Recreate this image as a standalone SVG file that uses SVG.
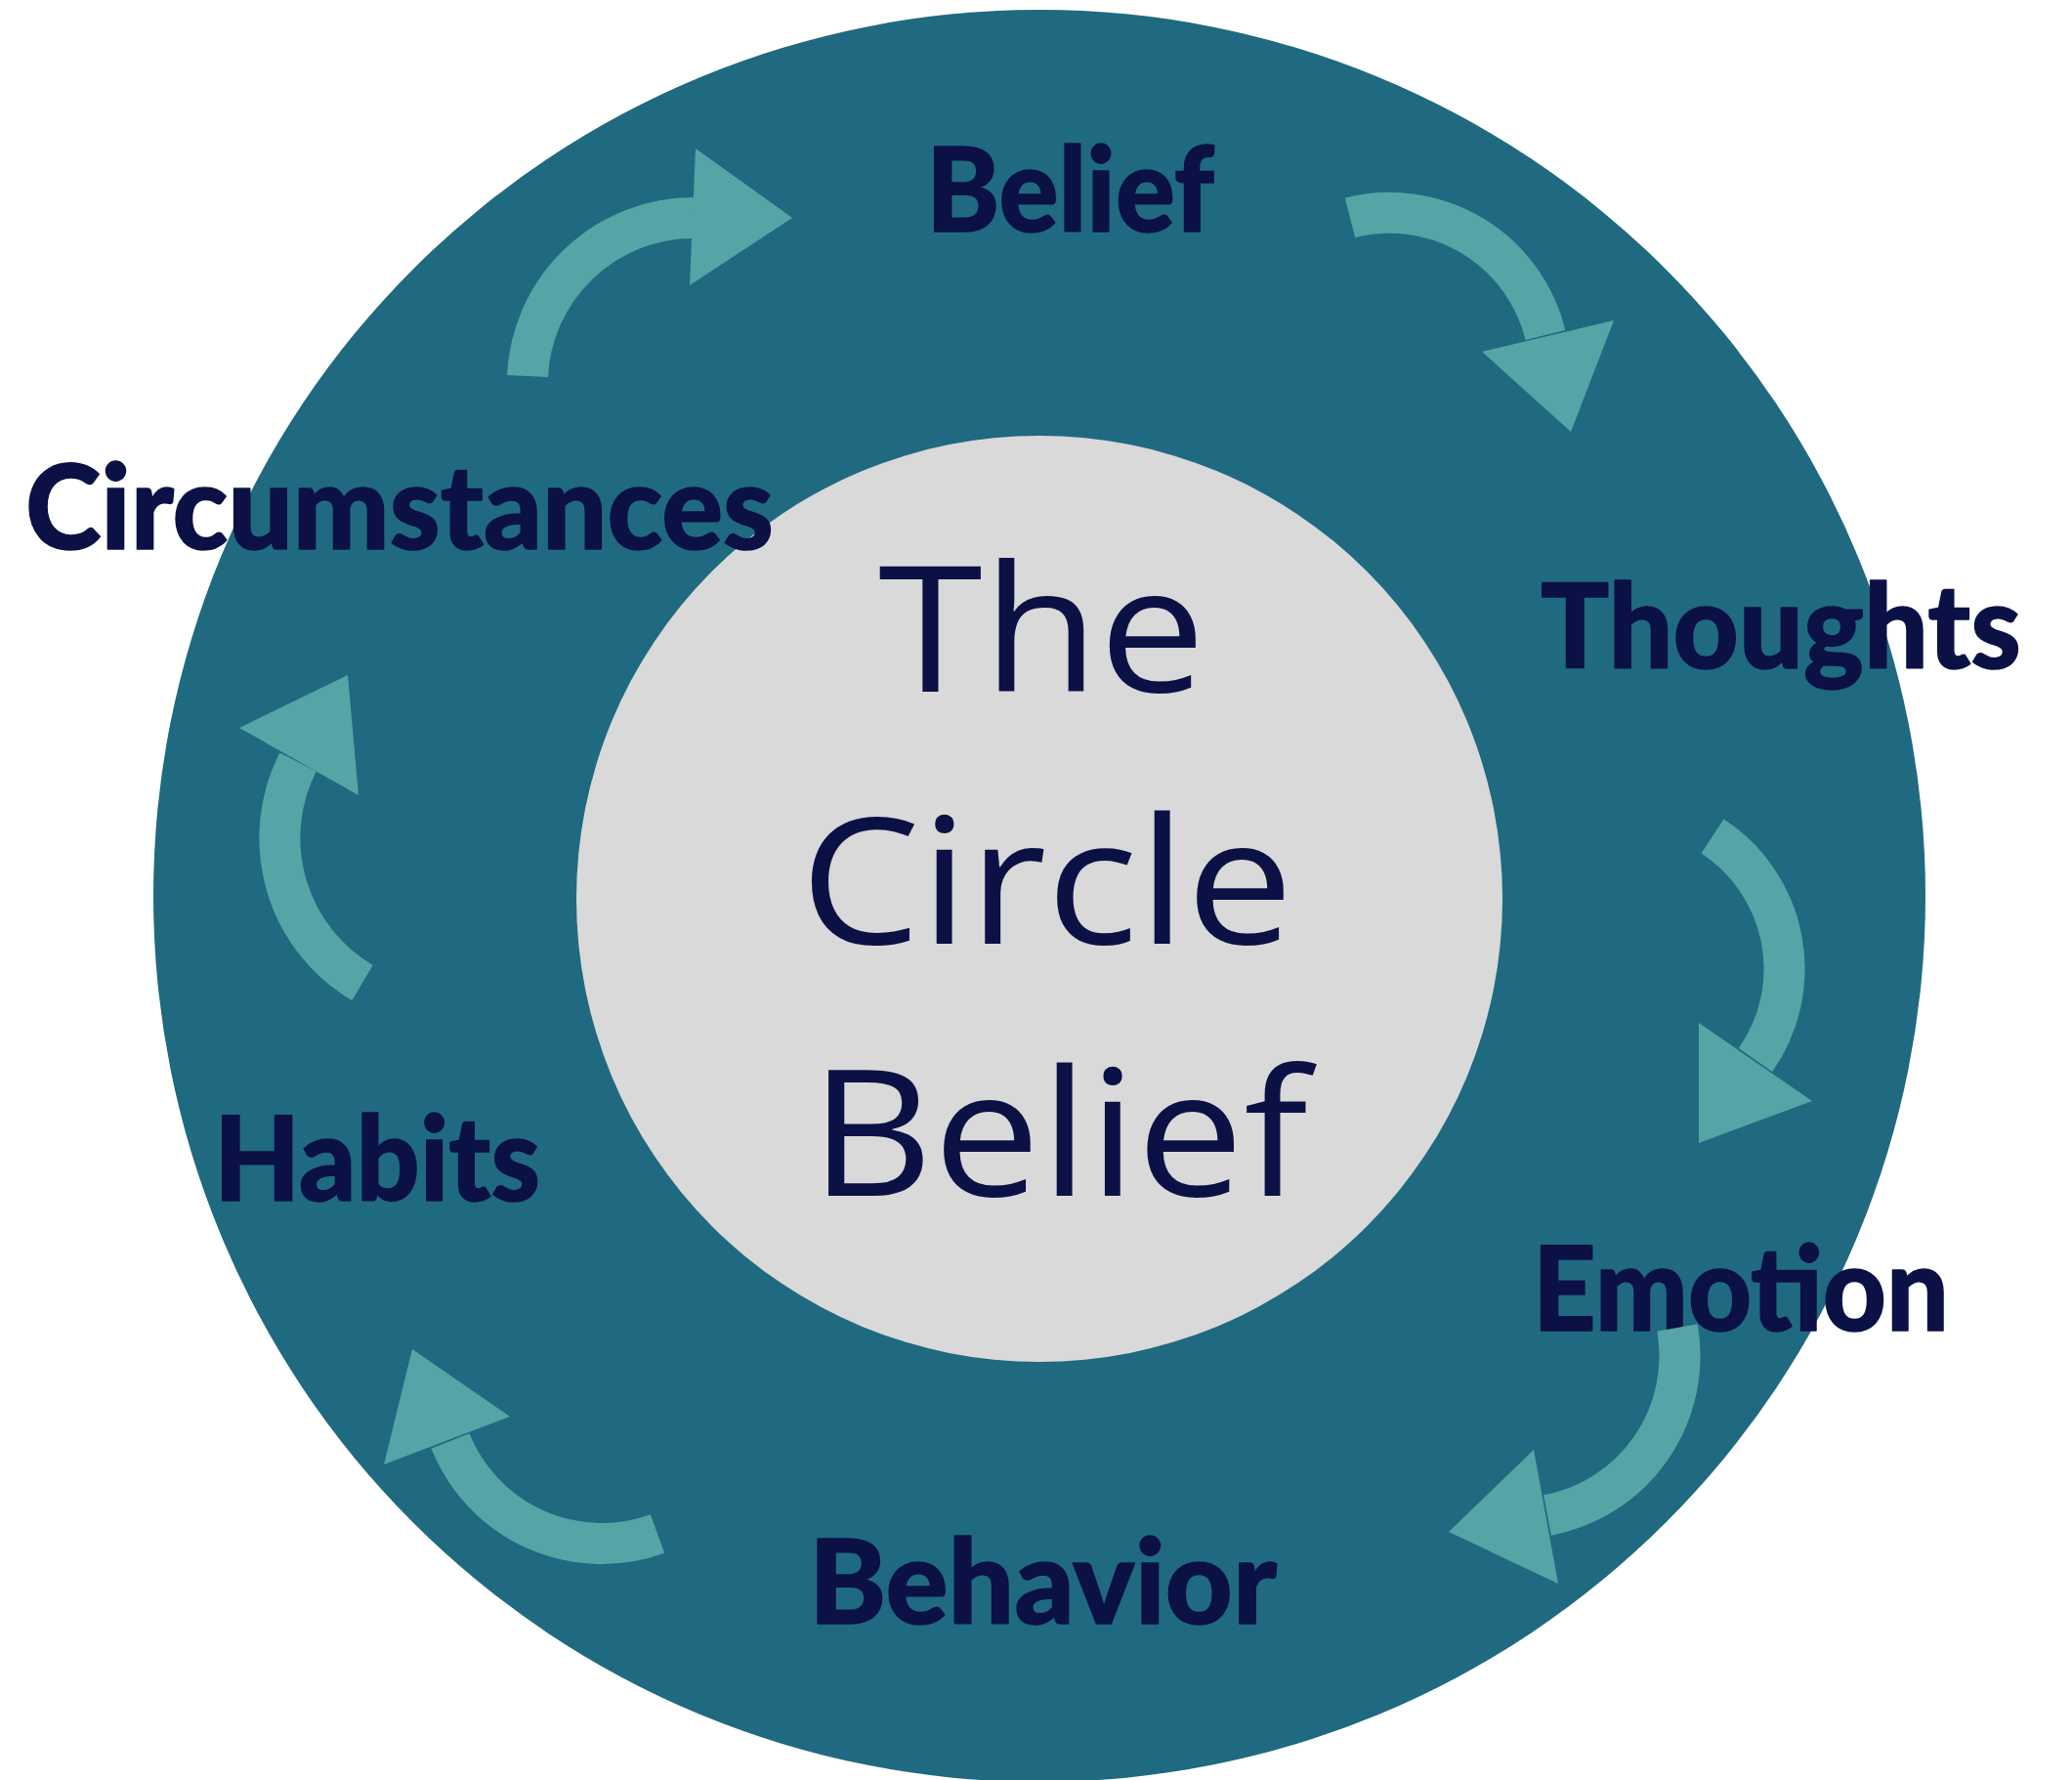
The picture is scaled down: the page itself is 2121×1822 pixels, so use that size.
<svg xmlns="http://www.w3.org/2000/svg" width="2121" height="1822" viewBox="0 0 2121 1822">
<style>
.lbl{font-family:"Lato","Noto Sans","Liberation Sans",sans-serif;font-weight:900;font-size:120px;fill:#0b1145;stroke:#0b1145;stroke-width:1.5;stroke-linejoin:round}
.ctr{font-family:"Open Sans","Liberation Sans",sans-serif;font-weight:400;font-size:180px;fill:#0b1145}
.shaft{fill:none;stroke:#56a5a6;stroke-width:42;stroke-linecap:butt}
.head{fill:#56a5a6}
</style>
<rect width="2121" height="1822" fill="#ffffff"/>
<g id="outer-ring"><circle cx="1064" cy="917" r="907" fill="#1f6a80"/></g>
<g id="center-node">
<circle cx="1064" cy="920" r="474" fill="#d9d9d9"/>
<text class="ctr" x="899" y="708" textLength="335" lengthAdjust="spacingAndGlyphs">The</text>
<text class="ctr" x="819" y="966" textLength="505" lengthAdjust="spacingAndGlyphs">Circle</text>
<text class="ctr" x="829" y="1224" textLength="510" lengthAdjust="spacingAndGlyphs">Belief</text>
</g>
<g id="node-belief"><text class="lbl" x="948" y="237" textLength="295" lengthAdjust="spacingAndGlyphs">Belief</text></g>
<g id="node-thoughts"><text class="lbl" x="1577" y="684" textLength="492" lengthAdjust="spacingAndGlyphs">Thoughts</text></g>
<g id="node-emotion"><text class="lbl" x="1569" y="1362" textLength="426" lengthAdjust="spacingAndGlyphs">Emotion</text></g>
<g id="node-behavior"><text class="lbl" x="828" y="1662" textLength="479" lengthAdjust="spacingAndGlyphs">Behavior</text></g>
<g id="node-habits"><text class="lbl" x="219" y="1229" textLength="334" lengthAdjust="spacingAndGlyphs">Habits</text></g>
<g id="node-circumstances"><text class="lbl" x="26" y="562" textLength="766" lengthAdjust="spacingAndGlyphs">Circumstances</text></g>
<g id="connectors">
<path class="shaft" d="M540 385 A170 170 0 0 1 710 223"/>
<polygon class="head" points="712,152 811,223 706,292"/>
<path class="shaft" d="M1382 223 A164 164 0 0 1 1582 343"/>
<polygon class="head" points="1517,360 1652,328 1608,442"/>
<path class="shaft" d="M1753 856 A162 162 0 0 1 1797 1085"/>
<polygon class="head" points="1739,1047 1855,1127 1739,1170"/>
<path class="shaft" d="M1717 1359 A166 166 0 0 1 1584 1551"/>
<polygon class="head" points="1570,1484 1483,1568 1595,1621"/>
<path class="shaft" d="M673 1570 A167 167 0 0 1 461 1475"/>
<polygon class="head" points="393,1499 422,1381 522,1450"/>
<path class="shaft" d="M371 1006 A172 172 0 0 1 305 780"/>
<polygon class="head" points="245,745 356,691 367,814"/>
</g>
</svg>
